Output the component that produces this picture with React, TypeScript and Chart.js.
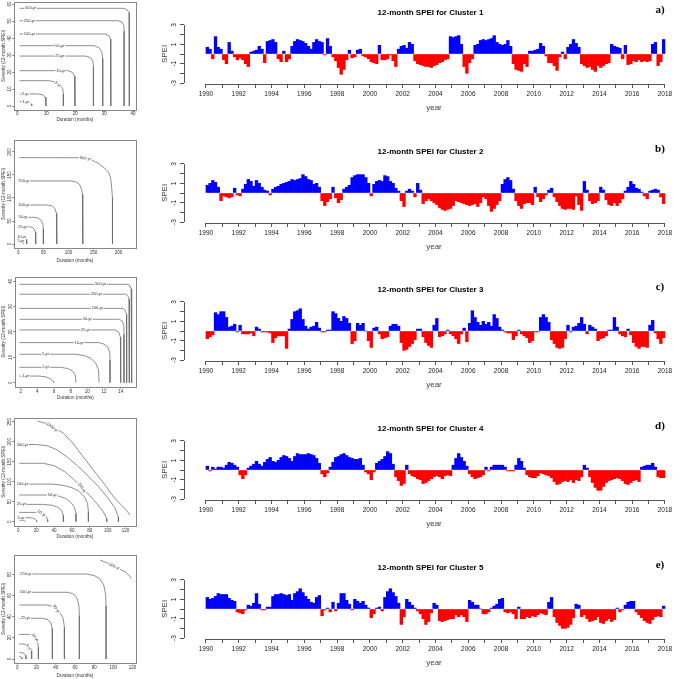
import React, { useEffect, useRef } from "react";
import { Chart, registerables } from "chart.js";

Chart.register(...registerables);

const SANS = "'Liberation Sans', Arial, Helvetica, sans-serif";
const SERIF = "'Liberation Serif', 'Times New Roman', Times, serif";

// ---------------- SPEI panels (right) ----------------
const yearTicks = [1990, 1991, 1992, 1993, 1994, 1995, 1996, 1997, 1998, 1999, 2000, 2001, 2002, 2003, 2004, 2005, 2006, 2007, 2008, 2009, 2010, 2011, 2012, 2013, 2014, 2015, 2016, 2017, 2018];
const speiTicks = [-3, -2, -1, 0, 1, 2, 3];
const speiLabelTicks = [-3, -1, 1, 3];

// bi-monthly 12-month SPEI values, 1990 .. 2017 (6 per year)
const speiCluster1 = [
  0.7, 0.5, -0.5, 1.8, 0.7, 0.5,
  -0.6, -1.0, 1.2, 0.3, -0.3, -0.6,
  -0.4, -0.6, -1.0, -1.3, 0.2, 0.3,
  0.4, 0.8, 0.5, -0.9, 1.3, 1.4,
  1.5, 1.2, -0.5, -0.8, 0.3, -0.8,
  -0.5, 0.8, 1.3, 1.5, 1.4, 1.3,
  1.1, 0.8, 0.5, 1.2, 1.5, 1.3,
  1.2, -0.1, 1.6, 0.8, -0.3, -0.7,
  -1.4, -2.1, -1.6, -0.6, 0.4, -0.4,
  -0.3, 0.4, 0.5, -0.2, -0.3, -0.5,
  -0.8, -0.9, -1.0, 0.9, -0.6, -0.6,
  -0.5, -0.1, -0.7, -1.3, 0.5, 0.8,
  0.9, 0.6, 1.2, 1.0, -0.7, -1.0,
  -1.1, -1.2, -1.3, -1.3, -1.4, -1.2,
  -1.1, -0.9, -0.8, -0.6, -0.5, 1.8,
  1.7, 1.8, 1.9, 1.0, -1.3, -2.0,
  -0.9, -0.5, 0.9, 1.0, 1.4, 1.5,
  1.4, 1.5, 1.6, 1.9, 1.2, 1.0,
  0.9, 1.0, 1.4, 0.8, -1.0, -1.6,
  -1.7, -1.8, -1.0, -1.3, 0.3, 0.3,
  0.4, 0.5, 1.1, 0.8, -0.2, -0.9,
  -0.9, -1.2, -1.7, -0.3, 0.2, -0.5,
  0.7, 1.0, 1.5, 1.1, 0.7, -1.0,
  -1.2, -1.4, -1.3, -1.6, -1.8, -1.2,
  -1.4, -1.2, -1.0, -0.9, 1.0, 0.8,
  0.7, 0.6, -0.5, 0.9, -1.1, -1.0,
  -0.7, -0.8, -0.6, -0.8, -0.7, -0.8,
  -0.7, 1.0, 1.2, -1.2, -0.8, 1.5,
];

const speiCluster2 = [
  0.8, 1.0, 1.3, 1.1, 0.6, -0.8,
  -0.3, -0.4, -0.5, -0.4, 0.5, -0.2,
  -0.3, 0.4, 0.9, 1.4, 1.2, 0.7,
  1.3, 1.0, 0.6, 0.3, 0.2, -0.2,
  0.4, 0.6, 0.7, 0.9, 1.0, 1.1,
  1.2, 1.4, 1.3, 1.4, 1.5, 1.9,
  1.7, 1.4, 1.3, 0.9, 1.0, 0.6,
  -0.8, -1.3, -0.9, -0.6, 0.6, -0.5,
  -1.0, -0.7, 0.4, 0.6, 0.8, 1.6,
  1.8, 1.9, 1.9, 1.9, 1.6, 1.0,
  -0.3, 0.9, 1.2, 1.3, 1.2, 1.8,
  1.7, 1.2, 1.0, 0.5, 0.2, -0.8,
  -1.4, 0.2, 0.4, 0.2, -0.4, 1.0,
  0.3, -1.1, -0.8, -0.6, -0.8, -1.0,
  -1.2, -1.5, -1.7, -1.8, -1.7, -1.6,
  -1.3, -0.8, -0.9, -1.0, -1.1, -1.2,
  -1.3, -1.2, -1.1, -1.4, -1.0, -0.4,
  -0.6, -1.3, -1.9, -1.6, -1.2, -0.8,
  0.9, 1.4, 1.6, 1.3, 0.4, -0.8,
  -1.3, -1.6, -1.1, -1.0, -1.0, -1.2,
  0.6, -0.4, -0.9, -0.6, -0.2, 0.3,
  0.5, -0.4, -0.9, -1.3, -1.6, -1.7,
  -1.6, -1.6, -1.7, -0.3, -1.2, -1.8,
  1.2, 0.3, -0.8, -1.1, -1.0, -0.8,
  0.6, 0.3, -0.7, -1.2, -1.3, -1.0,
  -1.3, -1.0, -0.6, 0.2, 0.6, 1.2,
  0.9, 0.5, 0.4, 0.1, -0.3, -0.6,
  0.2, 0.3, 0.4, 0.3, -0.4, -1.1,
];

const speiCluster3 = [
  -0.8, -0.6, -0.4, 1.9, 1.7, 2.0,
  2.0, 1.4, 0.4, 0.5, 0.7, -0.1,
  0.6, -0.3, -0.3, -0.3, -0.2, -0.5,
  0.4, 0.2, -0.1, -0.1, -0.1, -0.2,
  -1.2, -0.7, -0.5, -0.5, -0.5, -1.8,
  0.2, 1.2, 2.0, 2.1, 2.3, 1.2,
  0.5, 0.2, 0.4, 0.5, 0.9, 0.3,
  -0.1, -0.1, 0.1, 0.1, 2.0, 1.8,
  1.3, 1.0, 1.5, 1.3, 0.8, -1.3,
  -1.0, 0.8, 0.6, 0.8, 0.0, -1.0,
  -1.7, 0.3, 0.4, -0.3, -0.8, -0.7,
  -0.6, 0.5, 0.7, 0.7, 0.5, -1.2,
  -2.0, -1.9, -1.6, -1.3, -0.9, 0.2,
  0.2, -0.6, -1.2, -1.5, -1.7, 0.6,
  1.3, -0.6, -0.5, -0.3, 0.1, -0.3,
  -0.5, -0.8, -1.3, -0.3, 0.3, -1.1,
  0.8, 2.1, 1.4, 0.9, 0.6, 1.0,
  0.7, 0.9, 0.5, 1.7, 1.3, 0.4,
  0.1, -0.1, -0.2, -0.2, -0.9, -0.5,
  0.1, -0.3, -0.5, -0.7, -1.2, -1.0,
  -0.1, -0.1, 1.4, 1.7, 1.4, 0.9,
  -0.9, -1.3, -1.7, -1.8, -1.7, -0.8,
  0.6, -0.1, 0.4, 0.5, 0.8, 1.4,
  0.7, -0.3, 0.6, 0.4, 0.2, -1.0,
  -0.8, -0.7, -0.5, 0.1, 0.1, 1.4,
  0.4, -0.3, -0.5, -0.6, 0.2, -0.4,
  -1.2, -1.6, -1.8, -1.6, -1.6, -1.7,
  0.6, 1.1, -0.2, -0.8, -1.3, -0.7,
];

const speiCluster4 = [
  0.4, -0.1, 0.3, 0.1, 0.3, 0.3,
  0.2, 0.5, 0.8, 0.7, 0.5, 0.3,
  -0.5, -0.9, -0.5, 0.2, 0.4, 0.6,
  0.9, 0.6, 0.4, 0.8, 1.1, 1.3,
  0.9, 0.8, 1.0, 1.3, 1.5, 1.4,
  1.2, 0.9, 1.4, 1.7, 1.6, 1.6,
  1.6, 1.7, 1.6, 1.5, 1.2, 0.7,
  -0.4, -0.7, -0.3, 0.3, 0.8, 1.3,
  1.4, 1.6, 1.7, 1.5, 1.3, 1.2,
  1.1, 1.1, 1.2, 0.5, -0.2, -0.4,
  -1.0, -0.2, 0.7, 0.9, 1.1, 1.4,
  1.9, 1.7, 0.6, -0.7, -1.1, -1.6,
  -1.4, 0.5, -0.4, -0.6, -0.7, -0.9,
  -1.0, -1.4, -1.3, -1.1, -0.9, -0.7,
  -0.6, -0.7, -0.9, -0.6, -0.5, -0.6,
  0.5, 1.2, 1.7, 1.3, 0.9, 0.4,
  -0.4, -0.7, -0.9, -0.8, -0.7, -0.5,
  0.3, -0.1, 0.3, 0.5, 0.5, 0.5,
  0.5, 0.3, -0.1, -0.1, -0.1, 0.5,
  1.2, 0.9, 0.2, -0.5, -0.7, -0.8,
  -0.8, -0.6, -0.3, -0.4, -0.5, -0.6,
  -0.8, -1.2, -1.5, -1.4, -1.2, -1.1,
  -1.2, -1.0, -1.3, -1.0, -1.1, -0.7,
  0.5, 0.2, -0.7, -1.3, -1.8, -2.1,
  -2.1, -1.7, -1.3, -1.1, -1.0, -0.9,
  -0.8, -0.9, -1.1, -1.4, -1.5, -1.3,
  -1.1, -1.0, -1.2, 0.3, 0.4, 0.5,
  0.5, 0.7, 0.3, -0.7, -0.8, -0.8,
];

const speiCluster5 = [
  1.2, 1.0, 1.1, 1.3, 1.6, 1.5,
  1.5, 1.5, 1.1, 0.9, 0.8, -0.3,
  -0.4, -0.5, -0.1, 0.4, 0.3, 0.6,
  1.6, 0.5, -0.1, -0.1, 0.2, 0.2,
  1.3, 1.5, 1.5, 1.6, 1.5, 1.4,
  1.5, 0.9, 1.6, 1.8, 2.1, 1.7,
  1.3, 1.0, 0.7, 0.6, 1.2, 1.4,
  -0.7, -0.1, 0.1, -0.3, 0.7, -0.2,
  0.6, 1.6, 1.6, 0.9, 0.5, -0.1,
  1.0, 0.8, 0.6, 0.8, 0.4, 0.1,
  -0.9, -0.5, 0.1, 0.2, -0.2, 1.2,
  1.8, 2.1, 1.7, 1.3, 0.6, -1.6,
  -0.8, 1.0, 0.7, 0.4, 0.1, -0.2,
  -0.5, -1.0, -1.6, -1.3, -0.4, 0.6,
  0.4, -1.2, -1.3, -1.2, -1.1, -1.0,
  -1.0, -0.6, -0.8, -0.6, -0.8, -1.3,
  0.9, 0.7, 0.4, 0.4, 0.0, -0.5,
  -0.5, -0.3, 0.1, 0.3, 0.5, 1.0,
  1.1, -0.3, -0.4, -0.3, -0.5, -1.0,
  0.2, -1.0, -1.0, -0.8, -0.9, -0.7,
  -0.8, -0.6, -0.4, -0.5, -0.6, 0.7,
  1.2, -0.8, -1.4, -1.7, -2.0, -2.0,
  -1.9, -1.6, -0.9, 0.5, 0.4, -0.8,
  -0.6, -1.0, -1.3, -1.2, -1.1, -0.8,
  -1.4, -1.5, -1.2, -1.0, -1.3, -1.1,
  0.1, -0.3, -0.1, 0.4, 0.7, 0.8,
  0.8, -0.3, -0.6, -0.9, -1.2, -1.4,
  -1.5, -1.1, -0.8, -0.7, -0.8, 0.3,
];

const speiSeries = [speiCluster1, speiCluster2, speiCluster3, speiCluster4, speiCluster5];
const speiTitles = [
  "12-month SPEI for Cluster 1",
  "12-month SPEI for Cluster 2",
  "12-month SPEI for Cluster 3",
  "12-month SPEI for Cluster 4",
  "12-month SPEI for Cluster 5",
];
const panelLetters = ["a)", "b)", "c)", "d)", "e)"];

// ---------------- Severity-Duration-Frequency panels (left) ----------------
type Pt = [number, number];
type Lbl = { t: string; x: number; y: number; a: number };

// panel a
const sdfA_500: Pt[] = [[0.8, 57.5], [36.5, 57.5], [37.8, 56.8], [38.6, 55], [38.7, 52], [38.7, 0]];
const sdfA_250: Pt[] = [[0.8, 50.2], [34.8, 50.2], [36.2, 49.4], [36.8, 47.5], [36.9, 44], [36.9, 0]];
const sdfA_100: Pt[] = [[0.8, 42.4], [30.2, 42.4], [31.6, 41.5], [32.2, 39.5], [32.3, 36], [32.3, 0]];
const sdfA_50: Pt[] = [[0.8, 35.5], [26.5, 35.5], [28.2, 34.3], [29.2, 32], [29.5, 28], [29.5, 0]];
const sdfA_25: Pt[] = [[0.8, 29.4], [23.5, 29.4], [25.2, 28.5], [26.1, 26.5], [26.3, 23], [26.3, 0]];
const sdfA_10: Pt[] = [[0.8, 20.8], [17.5, 20.8], [19, 19.8], [19.8, 17.5], [19.9, 14], [19.9, 0]];
const sdfA_5: Pt[] = [[0.8, 14.9], [11, 14.9], [13, 14.2], [14.8, 12.5], [15.7, 10], [15.9, 7], [15.9, 0]];
const sdfA_2: Pt[] = [[0.8, 7.1], [7, 7.1], [8.7, 6.6], [9.6, 5.3], [9.9, 3.5], [9.9, 0]];
const sdfA_1: Pt[] = [[0.8, 2.5], [3.5, 2.5], [4.4, 2.0], [4.9, 1.0], [5.0, 0]];
const sdfA_labels: Lbl[] = [
  { t: "500-yr", x: 4.6, y: 57.5, a: 0 }, { t: "250-yr", x: 4.2, y: 50.2, a: 0 },
  { t: "100-yr", x: 4.2, y: 42.4, a: 0 }, { t: "50-yr", x: 14.7, y: 35.5, a: 0 },
  { t: "25-yr", x: 14.7, y: 29.4, a: 0 }, { t: "10-yr", x: 15, y: 20.8, a: 0 },
  { t: "5-yr", x: 14, y: 12.8, a: 40 }, { t: "2-yr", x: 2.8, y: 7.1, a: 0 },
  { t: "1-yr", x: 3, y: 2.5, a: 0 },
];

// panel b
const sdfB_500: Pt[] = [[2, 187.7], [125, 187.5], [147, 182.6], [163, 173], [175, 162], [180, 156], [184.5, 143], [186.5, 121], [188, 100], [188, 0]];
const sdfB_250: Pt[] = [[2, 137], [105, 137], [115, 135], [122, 130], [126, 120], [128, 108], [128.7, 92], [128.7, 0]];
const sdfB_100: Pt[] = [[2, 84.8], [58, 84.8], [67, 83], [73, 77], [76, 67], [76.7, 55], [76.7, 0]];
const sdfB_50: Pt[] = [[2, 58], [33, 58], [40, 56], [46, 51], [49, 43], [50, 33], [50, 0]];
const sdfB_25: Pt[] = [[2, 37.7], [22, 37.7], [28, 36], [32, 32], [34, 26], [34.7, 18], [34.7, 0]];
const sdfB_10: Pt[] = [[2, 16], [11, 16], [14.5, 14], [16.3, 10], [16.7, 5], [16.7, 0]];
const sdfB_5: Pt[] = [[2, 7], [7, 7], [9, 5.5], [10, 3], [10.2, 0]];
const sdfB_labels: Lbl[] = [
  { t: "500-yr", x: 134, y: 186, a: 8 }, { t: "250-yr", x: 11, y: 137, a: 0 },
  { t: "100-yr", x: 11, y: 84.8, a: 0 }, { t: "50-yr", x: 9.5, y: 58, a: 0 },
  { t: "25-yr", x: 9, y: 37.7, a: 0 }, { t: "10-yr", x: 7, y: 16, a: 0 },
  { t: "5-yr", x: 5, y: 7, a: 0 },
];

// panel c
const sdfC_500: Pt[] = [[1.85, 38.8], [14.85, 38.8], [15.1, 38.3], [15.25, 37], [15.32, 34], [15.32, 0]];
const sdfC_250: Pt[] = [[1.85, 34.9], [14.6, 34.9], [14.85, 34.3], [15.0, 33], [15.04, 30], [15.04, 0]];
const sdfC_100: Pt[] = [[1.85, 29.3], [14.25, 29.3], [14.55, 28.6], [14.7, 27], [14.72, 24], [14.72, 0]];
const sdfC_50: Pt[] = [[1.85, 25], [13.85, 25], [14.2, 24.3], [14.38, 22.5], [14.4, 19], [14.4, 0]];
const sdfC_25: Pt[] = [[1.85, 20.8], [13.3, 20.8], [13.75, 20], [13.97, 18], [14, 14], [14, 0]];
const sdfC_10: Pt[] = [[1.85, 15.8], [11.4, 15.8], [12.0, 15.2], [12.45, 14], [12.68, 12], [12.72, 9], [12.72, 0]];
const sdfC_5: Pt[] = [[1.85, 11.2], [8.6, 11.2], [9.6, 10.7], [10.4, 9.6], [11.0, 7.8], [11.35, 5], [11.4, 0]];
const sdfC_2: Pt[] = [[1.85, 6.05], [6.8, 6.05], [7.6, 5.6], [8.2, 4.6], [8.55, 3], [8.64, 0]];
const sdfC_1: Pt[] = [[1.85, 2.6], [4.2, 2.6], [5.0, 2.3], [5.6, 1.5], [5.9, 0.4], [5.95, 0]];
const sdfC_labels: Lbl[] = [
  { t: "500-yr", x: 11.6, y: 38.8, a: 0 }, { t: "250-yr", x: 11.1, y: 34.9, a: 0 },
  { t: "100-yr", x: 11.2, y: 29.3, a: 0 }, { t: "50-yr", x: 10.0, y: 25, a: 0 },
  { t: "25-yr", x: 9.8, y: 20.8, a: 0 }, { t: "10-yr", x: 9.0, y: 15.8, a: 0 },
  { t: "5-yr", x: 5.0, y: 11.2, a: 0 }, { t: "2-yr", x: 5.0, y: 6.05, a: 0 },
  { t: "1-yr", x: 2.6, y: 2.6, a: 0 },
];

// panel d
const sdfD_1000: Pt[] = [[21.3, 251.7], [35.4, 243], [50.4, 221], [59.7, 200], [70.9, 167], [84, 129], [97, 92], [108, 58], [119.4, 33], [125, 16.7]];
const sdfD_500: Pt[] = [[1, 193], [20, 193], [32, 190], [43, 180], [54, 163], [66, 140], [78, 115], [90, 87], [100, 60], [108, 35], [112, 12], [112, 0]];
const sdfD_250: Pt[] = [[1, 146], [28, 146], [40, 140], [52, 125], [62, 106], [71, 85], [80, 65], [88, 45], [95, 25], [99, 8], [99, 0]];
const sdfD_100: Pt[] = [[1, 94], [38, 94], [50, 91], [60, 85], [68, 76], [74, 62], [77.5, 45], [78.4, 25], [78.4, 0]];
const sdfD_50: Pt[] = [[1, 66.7], [33, 66.7], [45, 64], [53, 58], [59, 48], [63, 35], [64.5, 20], [64.5, 0]];
const sdfD_25: Pt[] = [[1, 43.3], [28, 43.3], [38, 41], [44, 36], [48.5, 28], [50.2, 16], [50.4, 0]];
const sdfD_10: Pt[] = [[1, 23.3], [18, 23.3], [24, 22], [28.5, 18.5], [31.5, 12], [32.8, 5], [32.8, 0]];
const sdfD_5: Pt[] = [[1, 10], [12, 10], [16, 9], [19, 6], [20.3, 3], [20.5, 0]];
const sdfD_2: Pt[] = [[1, 3.5], [5, 3.5], [7, 2.5], [8, 0]];
const sdfD_labels: Lbl[] = [
  { t: "1000-yr", x: 38, y: 236, a: 35 }, { t: "500-yr", x: 4.5, y: 193, a: 0 },
  { t: "250-yr", x: 71, y: 85, a: 55 }, { t: "100-yr", x: 4.5, y: 94, a: 0 },
  { t: "50-yr", x: 38, y: 66.7, a: 0 }, { t: "25-yr", x: 3.5, y: 43.3, a: 0 },
  { t: "10-yr", x: 26, y: 21, a: 35 }, { t: "5-yr", x: 3, y: 10, a: 0 },
];

// panel e
const sdfE_500: Pt[] = [[86.1, 93.7], [93, 91], [105, 85.8], [113, 82], [117.4, 78], [118.4, 76.3]];
const sdfE_250: Pt[] = [[2, 80.4], [72, 80.4], [80, 79], [86, 76], [90, 70], [92, 61], [92.4, 50], [92.4, 0]];
const sdfE_100: Pt[] = [[2, 63.1], [53, 63.1], [58.5, 61.5], [62.3, 57.5], [64.2, 50], [64.6, 41], [64.6, 0]];
const sdfE_50: Pt[] = [[2, 51.1], [30, 51.1], [36, 50], [41, 47], [45, 43], [47.8, 38], [49, 30], [49, 0]];
const sdfE_25: Pt[] = [[2, 38.5], [27, 38.5], [32, 37.3], [35, 34], [36.3, 29], [36.5, 24], [36.5, 0]];
const sdfE_10: Pt[] = [[2, 23.3], [12.5, 23.3], [16, 22.3], [19, 19.5], [21, 16], [21.9, 11], [21.9, 0]];
const sdfE_5: Pt[] = [[2, 14.2], [7, 14.2], [10, 13.4], [12.5, 11], [14.3, 8], [14.9, 5], [15, 0]];
const sdfE_2: Pt[] = [[2, 6], [5, 6], [7, 5.3], [8.5, 3.5], [9, 1.5], [9, 0]];
const sdfE_1: Pt[] = [[2, 2.2], [3.5, 2.2], [4.5, 1.3], [4.8, 0]];
const sdfE_labels: Lbl[] = [
  { t: "500-yr", x: 101, y: 87.5, a: 25 }, { t: "250-yr", x: 9, y: 80.4, a: 0 },
  { t: "100-yr", x: 8.5, y: 63.1, a: 0 }, { t: "50-yr", x: 40.5, y: 47.5, a: 55 },
  { t: "25-yr", x: 8.5, y: 38.5, a: 0 }, { t: "10-yr", x: 18.5, y: 20.5, a: 55 },
  { t: "5-yr", x: 12, y: 11, a: 50 },
];

const ticksA_x = [0, 10, 20, 30, 40];
const ticksA_y = [0, 10, 20, 30, 40, 50, 60];
const ticksB_x = [0, 50, 100, 150, 200];
const ticksB_y = [0, 50, 100, 150, 200];
const ticksC_x = [2, 4, 6, 8, 10, 12, 14];
const ticksC_y = [0, 10, 20, 30, 40];
const ticksD_x = [0, 20, 40, 60, 80, 100, 120];
const ticksD_y = [0, 50, 100, 150, 200, 250];
const ticksE_x = [0, 20, 40, 60, 80, 100, 120];
const ticksE_y = [0, 20, 40, 60, 80];

type SdfPanel = {
  top: number; height: number;
  box: { l: number; t: number; r: number; b: number };
  xr: [number, number]; yr: [number, number];
  xTicks: number[]; yTicks: number[];
  curves: Pt[][]; labels: Lbl[];
  xLabelY: number; xTitleY: number;
};

const sdfPanels: SdfPanel[] = [
  { top: 0, height: 125, box: { l: 14, t: 1.7, r: 135.7, b: 110 }, xr: [-1.15, 40.9], yr: [-2.35, 61.4],
    xTicks: ticksA_x, yTicks: ticksA_y, curves: [sdfA_500, sdfA_250, sdfA_100, sdfA_50, sdfA_25, sdfA_10, sdfA_5, sdfA_2, sdfA_1],
    labels: sdfA_labels, xLabelY: 113.3, xTitleY: 119.3 },
  { top: 135, height: 130, box: { l: 14, t: 5, r: 136, b: 112.7 }, xr: [-8.7, 235], yr: [-8, 226],
    xTicks: ticksB_x, yTicks: ticksB_y, curves: [sdfB_500, sdfB_250, sdfB_100, sdfB_50, sdfB_25, sdfB_10, sdfB_5],
    labels: sdfB_labels, xLabelY: 117.3, xTitleY: 126 },
  { top: 270, height: 132, box: { l: 15, t: 6.7, r: 136, b: 116.7 }, xr: [1.32, 15.84], yr: [-1.6, 41.8],
    xTicks: ticksC_x, yTicks: ticksC_y, curves: [sdfC_500, sdfC_250, sdfC_100, sdfC_50, sdfC_25, sdfC_10, sdfC_5, sdfC_2, sdfC_1],
    labels: sdfC_labels, xLabelY: 121.7, xTitleY: 127.7 },
  { top: 405, height: 135, box: { l: 14, t: 12.7, r: 136, b: 120.7 }, xr: [-4.9, 131.7], yr: [-10, 260],
    xTicks: ticksD_x, yTicks: ticksD_y, curves: [sdfD_1000, sdfD_500, sdfD_250, sdfD_100, sdfD_50, sdfD_25, sdfD_10, sdfD_5, sdfD_2],
    labels: sdfD_labels, xLabelY: 126, xTitleY: 132 },
  { top: 540, height: 139, box: { l: 14, t: 15, r: 136, b: 122.7 }, xr: [-3.5, 123.6], yr: [-3.5, 98.4],
    xTicks: ticksE_x, yTicks: ticksE_y, curves: [sdfE_500, sdfE_250, sdfE_100, sdfE_50, sdfE_25, sdfE_10, sdfE_5, sdfE_2, sdfE_1],
    labels: sdfE_labels, xLabelY: 127.7, xTitleY: 136 },
];

// ---------------- helpers ----------------
let measureCtx: CanvasRenderingContext2D | null = null;
function textWidth(text: string, font: string): number {
  if (!measureCtx) measureCtx = document.createElement("canvas").getContext("2d");
  measureCtx!.font = font;
  return measureCtx!.measureText(text).width;
}

type RSettings = {
  box?: boolean;
  axisLines?: { x0: number; x1: number; y0: number; y1: number };
  axisColor: string;
  labels?: Lbl[];
  labelSize?: number;
  title?: { text: string; x: number; y: number };
  letter?: { text: string; x: number; y: number };
};

function rPlugin(s: RSettings) {
  return {
    id: "rstyle",
    afterDatasetsDraw(chart: any) {
      if (!s.labels) return;
      const { ctx } = chart;
      const xs = chart.scales.x;
      const ys = chart.scales.y;
      const fs = s.labelSize || 4;
      ctx.save();
      ctx.font = `${fs}px ${SANS}`;
      ctx.textAlign = "center";
      ctx.textBaseline = "middle";
      for (const L of s.labels) {
        const px = xs.getPixelForValue(L.x);
        const py = ys.getPixelForValue(L.y);
        ctx.save();
        ctx.translate(px, py);
        ctx.rotate((L.a * Math.PI) / 180);
        const w = ctx.measureText(L.t).width;
        ctx.fillStyle = "#ffffff";
        ctx.fillRect(-w / 2 - 0.7, -fs * 0.6, w + 1.4, fs * 1.2);
        ctx.fillStyle = "#333333";
        ctx.fillText(L.t, 0, 0);
        ctx.restore();
      }
      ctx.restore();
    },
    afterDraw(chart: any) {
      const { ctx, chartArea } = chart;
      const xs = chart.scales.x;
      const ys = chart.scales.y;
      ctx.save();
      ctx.strokeStyle = s.axisColor;
      ctx.lineWidth = 1;
      if (s.box) {
        ctx.strokeRect(Math.round(chartArea.left) + 0.5, Math.round(chartArea.top) + 0.5,
          Math.round(chartArea.right) - Math.round(chartArea.left), Math.round(chartArea.bottom) - Math.round(chartArea.top));
      }
      if (s.axisLines) {
        const a = s.axisLines;
        const yb = Math.round(chartArea.bottom) + 0.5;
        const xl = Math.round(chartArea.left) + 0.5;
        ctx.beginPath();
        ctx.moveTo(xs.getPixelForValue(a.x0), yb);
        ctx.lineTo(xs.getPixelForValue(a.x1), yb);
        ctx.moveTo(xl, ys.getPixelForValue(a.y0));
        ctx.lineTo(xl, ys.getPixelForValue(a.y1));
        ctx.stroke();
      }
      if (s.title) {
        ctx.fillStyle = "#000";
        ctx.font = `bold 8px ${SANS}`;
        ctx.textAlign = "center";
        ctx.textBaseline = "middle";
        ctx.fillText(s.title.text, s.title.x, s.title.y);
      }
      if (s.letter) {
        ctx.fillStyle = "#000";
        ctx.font = `bold 11px ${SERIF}`;
        ctx.textAlign = "center";
        ctx.textBaseline = "middle";
        ctx.fillText(s.letter.text, s.letter.x, s.letter.y);
      }
      ctx.restore();
    },
  };
}

const SPEI_W = 535;
const SPEI_H = 124;
const speiTops = [0, 139, 277, 416, 555];

function speiConfig(values: number[], title: string, letter: string): any {
  const fs = 6.5;
  const tl = 4;
  const widest = Math.max(...speiLabelTicks.map((v) => textWidth(String(v), `${fs}px ${SANS}`)));
  const chartTop = 24;
  const chartBottom = 84;
  const chartLeft = 34;
  return {
    type: "bar",
    data: {
      datasets: [
        {
          data: values.map((v, i) => ({ x: 1990 + (2 * i + 1) / 12, y: v })),
          backgroundColor: values.map((v) => (v >= 0 ? "#0000FF" : "#FF0000")),
          borderWidth: 0,
          barThickness: 2.75,
          inflateAmount: 0.3,
        },
      ],
    },
    options: {
      animation: false,
      responsive: false,
      events: [],
      layout: { padding: { top: chartTop, right: 1, left: 0, bottom: 0 } },
      plugins: { legend: { display: false }, tooltip: { enabled: false }, title: { display: false } },
      scales: {
        x: {
          type: "linear",
          min: 1988.66,
          max: 2019.16,
          offset: false,
          afterBuildTicks: (sc: any) => { sc.ticks = yearTicks.map((v) => ({ value: v })); },
          afterFit: (sc: any) => { sc.height = SPEI_H - chartBottom; sc.paddingLeft = 0; sc.paddingRight = 0; },
          ticks: {
            autoSkip: false, maxRotation: 0, minRotation: 0, padding: 10 - tl - fs * 0.6,
            font: { family: SANS, size: fs }, color: "#222",
            callback: (v: number) => (v % 2 === 0 ? String(v) : ""),
          },
          grid: { drawOnChartArea: false, drawTicks: true, tickLength: tl, color: "#555", offset: false },
          border: { display: false },
          title: { display: true, text: "year", font: { family: SANS, size: 8 }, color: "#444",
            padding: { top: 0, bottom: SPEI_H - 108 - 4.8 } },
        },
        y: {
          type: "linear",
          min: -3.1,
          max: 3.1,
          afterBuildTicks: (sc: any) => { sc.ticks = speiTicks.map((v) => ({ value: v })); },
          afterFit: (sc: any) => { sc.width = chartLeft; sc.paddingTop = 0; sc.paddingBottom = 0; },
          ticks: {
            autoSkip: false, minRotation: 90, maxRotation: 90, crossAlign: "center",
            padding: 10 - tl - widest / 2,
            font: { family: SANS, size: fs }, color: "#222",
            callback: (v: number) => (Math.abs(v) % 2 === 1 ? String(v) : ""),
          },
          grid: { drawOnChartArea: false, drawTicks: true, tickLength: tl, color: "#555" },
          border: { display: false },
          title: { display: true, text: "SPEI", font: { family: SANS, size: 8 }, color: "#444",
            padding: { top: 15 - 4.8, bottom: 0 } },
        },
      },
    },
    plugins: [
      rPlugin({
        axisLines: { x0: 1990, x1: 2018, y0: -3, y1: 3 },
        axisColor: "#555",
        title: { text: title, x: 280.5, y: 12.7 },
        letter: { text: letter, x: 510, y: 10 },
      }),
    ],
  };
}

const SDF_W = 145;

function sdfConfig(p: SdfPanel): any {
  const fs = 4.5;
  const tl = 1.8;
  const titleFs = 4.6;
  const widest = Math.max(...p.yTicks.map((v) => textWidth(String(v), `${fs}px ${SANS}`)));
  return {
    type: "scatter",
    data: {
      datasets: p.curves.map((c) => ({
        data: c.map(([x, y]) => ({ x, y })),
        showLine: true,
        borderColor: "#6a6a6a",
        borderWidth: 0.75,
        pointRadius: 0,
        pointHoverRadius: 0,
        tension: 0,
        fill: false,
      })),
    },
    options: {
      animation: false,
      responsive: false,
      events: [],
      layout: { padding: { top: p.box.t, right: SDF_W - p.box.r, left: 0, bottom: 0 } },
      plugins: { legend: { display: false }, tooltip: { enabled: false } },
      scales: {
        x: {
          type: "linear", min: p.xr[0], max: p.xr[1], offset: false,
          afterBuildTicks: (sc: any) => { sc.ticks = p.xTicks.map((v) => ({ value: v })); },
          afterFit: (sc: any) => { sc.height = p.height - p.box.b; sc.paddingLeft = 0; sc.paddingRight = 0; },
          ticks: { autoSkip: false, maxRotation: 0, minRotation: 0, padding: p.xLabelY - p.box.b - tl - fs * 0.6,
            font: { family: SANS, size: fs }, color: "#333" },
          grid: { drawOnChartArea: false, drawTicks: true, tickLength: tl, color: "#808080" },
          border: { display: false },
          title: { display: true, text: "Duration (months)", font: { family: SANS, size: titleFs }, color: "#333",
            padding: { top: 0, bottom: p.height - p.xTitleY - titleFs * 0.6 } },
        },
        y: {
          type: "linear", min: p.yr[0], max: p.yr[1],
          afterBuildTicks: (sc: any) => { sc.ticks = p.yTicks.map((v) => ({ value: v })); },
          afterFit: (sc: any) => { sc.width = p.box.l; sc.paddingTop = 0; sc.paddingBottom = 0; },
          ticks: { autoSkip: false, minRotation: 90, maxRotation: 90, crossAlign: "center",
            padding: 4.2 - tl - widest / 2, font: { family: SANS, size: fs }, color: "#333" },
          grid: { drawOnChartArea: false, drawTicks: true, tickLength: tl, color: "#808080" },
          border: { display: false },
          title: { display: true, text: "Severity (12-month SPEI)", font: { family: SANS, size: titleFs }, color: "#333",
            padding: { top: 3.4 - titleFs * 0.6, bottom: 0 } },
        },
      },
    },
    plugins: [rPlugin({ box: true, axisColor: "#888", labels: p.labels, labelSize: 4 })],
  };
}

function ChartCanvas(props: { make: () => any; left: number; top: number; width: number; height: number }) {
  const ref = useRef<HTMLCanvasElement | null>(null);
  useEffect(() => {
    if (!ref.current) return;
    const chart = new Chart(ref.current, props.make());
    return () => chart.destroy();
  }, []);
  return (
    <canvas
      ref={ref}
      width={props.width}
      height={props.height}
      style={{ position: "absolute", left: props.left, top: props.top, width: props.width, height: props.height }}
    />
  );
}

export default function App() {
  return (
    <div style={{ position: "absolute", left: 0, top: 0, width: 685, height: 679, background: "#ffffff", overflow: "hidden" }}>
      {sdfPanels.map((p, i) => (
        <ChartCanvas key={"sdf" + i} make={() => sdfConfig(p)} left={0} top={p.top} width={SDF_W} height={p.height} />
      ))}
      {speiSeries.map((s, i) => (
        <ChartCanvas key={"spei" + i} make={() => speiConfig(s, speiTitles[i], panelLetters[i])} left={150} top={speiTops[i]} width={SPEI_W} height={SPEI_H} />
      ))}
    </div>
  );
}
